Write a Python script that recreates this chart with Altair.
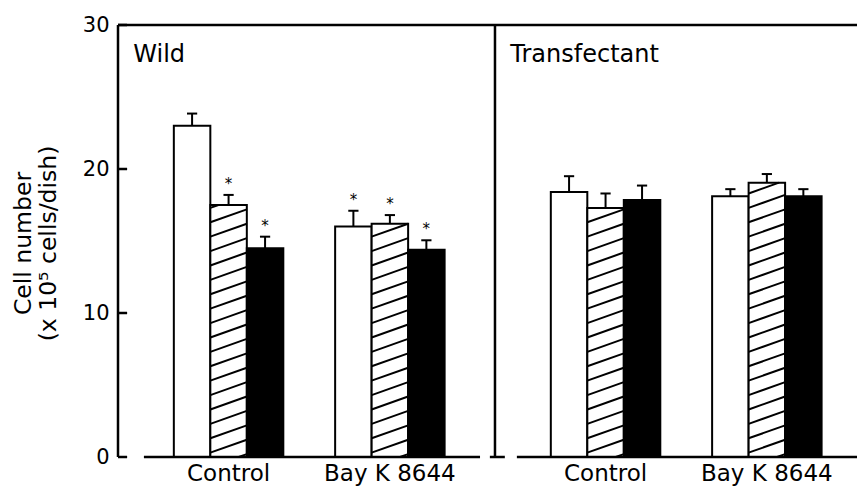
import altair as alt
import pandas as pd

# ---------------- data ----------------
panels = ["Wild", "Transfectant"]
groups = ["Control", "Bay K 8644"]
treatments = ["open", "hatched", "solid"]

wild_means = [23.0, 17.5, 14.5, 16.0, 16.2, 14.4]
wild_sem = [0.85, 0.7, 0.8, 1.1, 0.6, 0.65]
wild_sig = [0, 1, 1, 1, 1, 1]

trans_means = [18.4, 17.3, 17.85, 18.1, 19.05, 18.1]
trans_sem = [1.1, 1.0, 1.0, 0.5, 0.6, 0.5]
trans_sig = [0, 0, 0, 0, 0, 0]

y_ticks = [0, 10, 20, 30]
y_title = ["Cell number", "(x 10\u2075 cells/dish)"]

# ---------------- layout (x in bar-width units) ----------------
X_MAX = 20.25
PANEL_START = [0.0, 10.33]
GROUP_START = [1.53, 5.95]
BAR_W = 1.0
CAP_HALF = 0.14
TICK_LEN = 0.25
HATCH_STEP = 1.0
HATCH_RISE = 0.9
HATCH_PHASE = 0.3
Y_MAX = 30
BASE_SEGMENTS = [(0.71, 9.92), (10.19, 10.6), (10.93, X_MAX)]
FILLS = ["white", "white", "black"]
FONT = "DejaVu Sans"

rows = []
series = [(wild_means, wild_sem, wild_sig), (trans_means, trans_sem, trans_sig)]
for p, (means, sems, sig) in enumerate(series):
    for g in range(len(groups)):
        for t in range(len(treatments)):
            i = g * 3 + t
            x0 = PANEL_START[p] + GROUP_START[g] + t * BAR_W
            xc = x0 + BAR_W / 2
            rows.append(dict(panel=panels[p], group=groups[g], treatment=treatments[t],
                             x0=x0, x1=x0 + BAR_W, xc=xc, cl=xc - CAP_HALF, cr=xc + CAP_HALF,
                             mean=means[i], top=means[i] + sems[i], zero=0,
                             sig="*" if sig[i] else "", fill=FILLS[t]))
bars = pd.DataFrame(rows)

hatch = []
for r in rows:
    if r["treatment"] != "hatched":
        continue
    v = r["mean"]
    k = -1
    while True:
        yl = HATCH_PHASE + k * HATCH_STEP
        if yl > v:
            break
        tmin = max(0.0, -yl / HATCH_RISE)
        tmax = min(1.0, (v - yl) / HATCH_RISE)
        if tmin < tmax:
            hatch.append(dict(x=r["x0"] + tmin * BAR_W, x2=r["x0"] + tmax * BAR_W,
                              y=yl + HATCH_RISE * tmin, y2=yl + HATCH_RISE * tmax))
        k += 1
hatch = pd.DataFrame(hatch)

frame_rows = [
    dict(x=0, x2=X_MAX, y=Y_MAX, y2=Y_MAX),
    dict(x=0, x2=0, y=0, y2=Y_MAX),
    dict(x=PANEL_START[1], x2=PANEL_START[1], y=0, y2=Y_MAX),
]
for a, b in BASE_SEGMENTS:
    frame_rows.append(dict(x=a, x2=b, y=0, y2=0))
for t in y_ticks:
    frame_rows.append(dict(x=0, x2=TICK_LEN, y=t, y2=t))
frame = pd.DataFrame(frame_rows)

panel_labels = pd.DataFrame([dict(x=PANEL_START[p] + 0.42, y=27.4, text=panels[p])
                             for p in range(len(panels))])
group_labels = pd.DataFrame([dict(x=PANEL_START[p] + GROUP_START[g] + 1.5 * BAR_W, y=0, text=groups[g])
                             for p in range(len(panels)) for g in range(len(groups))])

xs = alt.Scale(domain=[0, X_MAX], nice=False, zero=False)
ys = alt.Scale(domain=[0, Y_MAX], nice=False)

yaxis = alt.Axis(values=y_ticks, ticks=False, domain=False, grid=False,
                 labelFont=FONT, labelFontSize=21, labelColor="black", labelPadding=9,
                 title=y_title, titleFont=FONT, titleFontSize=23.5, titleFontWeight="normal",
                 titleColor="black", titleAngle=-90, titleX=-95, titleY=218,
                 titleAlign="center", titleBaseline="middle", titleLineHeight=25)


def X(field):
    return alt.X(field, scale=xs, axis=None)


def Y(field):
    return alt.Y(field, scale=ys, axis=yaxis)


bar_layer = alt.Chart(bars).mark_rect(stroke="black", strokeWidth=2).encode(
    x=X("x0:Q"), x2="x1:Q",
    y=Y("mean:Q"), y2="zero:Q",
    fill=alt.Fill("fill:N", scale=None),
)

hatch_layer = alt.Chart(hatch).mark_rule(color="black", strokeWidth=2).encode(
    x=X("x:Q"), x2="x2:Q", y=Y("y:Q"), y2="y2:Q",
)

stem_layer = alt.Chart(bars).mark_rule(color="black", strokeWidth=2).encode(
    x=X("xc:Q"), y=Y("mean:Q"), y2="top:Q",
)

cap_layer = alt.Chart(bars).mark_rule(color="black", strokeWidth=2).encode(
    x=X("cl:Q"), x2="cr:Q", y=Y("top:Q"),
)

star_layer = alt.Chart(bars).transform_filter(alt.datum.sig != "").mark_text(
    font=FONT, fontSize=15, color="black", baseline="alphabetic", dy=-6
).encode(
    x=X("xc:Q"), y=Y("top:Q"), text="sig:N",
)

frame_layer = alt.Chart(frame).mark_rule(color="black", strokeWidth=2.5).encode(
    x=X("x:Q"), x2="x2:Q", y=Y("y:Q"), y2="y2:Q",
)

panel_text = alt.Chart(panel_labels).mark_text(
    font=FONT, fontSize=24, color="black", align="left", baseline="alphabetic"
).encode(
    x=X("x:Q"), y=Y("y:Q"), text="text:N",
)

group_text = alt.Chart(group_labels).mark_text(
    font=FONT, fontSize=23, color="black", align="center", baseline="alphabetic", dy=24
).encode(
    x=X("x:Q"), y=Y("y:Q"), text="text:N",
)

chart = alt.layer(
    bar_layer, hatch_layer, stem_layer, cap_layer, star_layer,
    frame_layer, panel_text, group_text,
).properties(
    width=739, height=432,
    autosize=alt.AutoSizeParams(type="none"),
    padding={"left": 110, "top": 17, "right": 0, "bottom": 29},
    background="white",
).configure_view(stroke=None)

chart.save("out.html", embed_options={"renderer": "svg", "actions": False})
